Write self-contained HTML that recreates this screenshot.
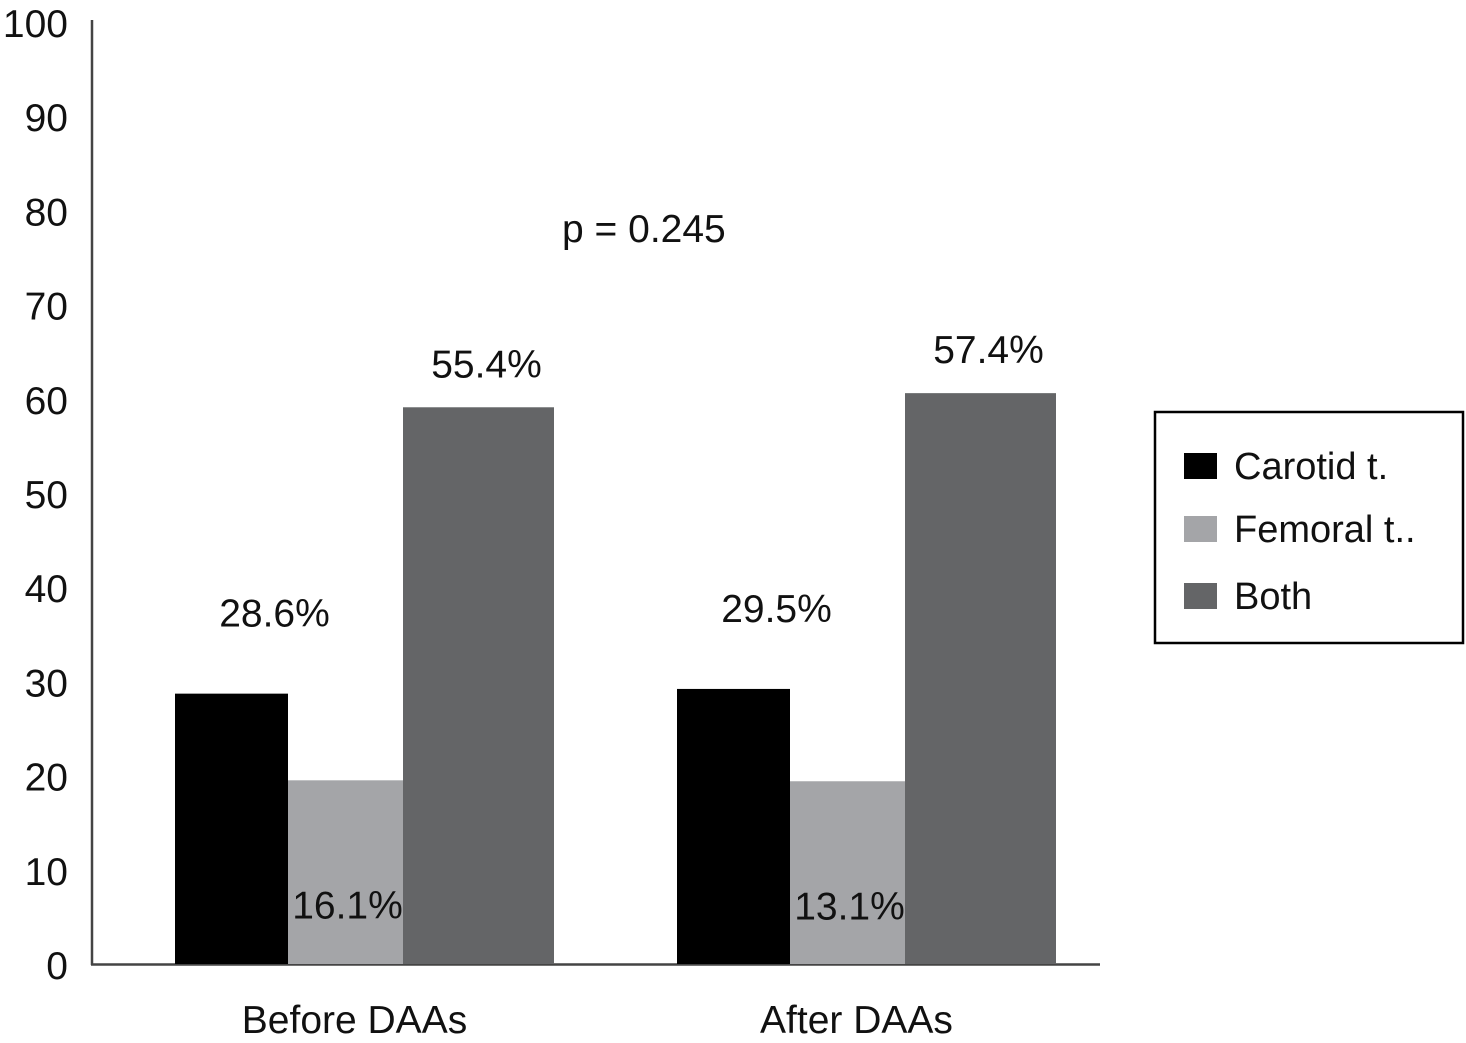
<!DOCTYPE html>
<html><head><meta charset="utf-8"><style>
html,body{margin:0;padding:0;background:#fff;}
svg{display:block;font-family:"Liberation Sans",Arial,sans-serif;}
</style></head><body>
<svg id="chart" width="1466" height="1043" viewBox="0 0 1466 1043"></svg>
<script>
const categories = ["Before DAAs","After DAAs"];
const seriesNames = ["Carotid t.","Femoral t..","Both"];
const carotidValues = [28.7, 29.2];
const femoralValues = [19.5, 19.4];
const bothValues = [59.1, 60.6];
const carotidLabels = ["28.6%","29.5%"];
const femoralLabels = ["16.1%","13.1%"];
const bothLabels = ["55.4%","57.4%"];
const yTicks = [0,10,20,30,40,50,60,70,80,90,100];

const NS="http://www.w3.org/2000/svg";
const svg=document.getElementById('chart');
function mk(tag,attrs,text){const e=document.createElementNS(NS,tag);for(const k in attrs)e.setAttribute(k,attrs[k]);if(text!==undefined)e.textContent=text;svg.appendChild(e);return e;}
const y0=964, yTop=22;
function yScale(v){return y0-(y0-yTop)*v/100;}
const groupStart=[175,677];
const widths=[113,115,151];
const colors=["#000000","#a4a5a8","#646567"];
const series=[carotidValues,femoralValues,bothValues];
const labels=[carotidLabels,femoralLabels,bothLabels];
const labelOffsets=[[43,-67],[2,138],[8,-30]];

let ax=mk('line',{x1:92,y1:20,x2:92,y2:965,stroke:'#444','stroke-width':2.5});


let xa=mk('line',{x1:91,y1:964.5,x2:1100,y2:964.5,stroke:'#444','stroke-width':2.5});



yTicks.forEach(t=>{
  const tx=mk('text',{x:68,y:yScale(t)+15,'text-anchor':'end','font-size':39,fill:'#111'},String(t));
  
  
});

categories.forEach((c,i)=>{
  let x=groupStart[i];
  series.forEach((s,j)=>{
    const y=yScale(s[i]);
    const r=mk('rect',{x:x,y:y,width:widths[j],height:y0-y,fill:colors[j]});
    
    
    const lbl=mk('text',{x:x+widths[j]/2+labelOffsets[j][0],y:y+labelOffsets[j][1],'text-anchor':'middle','font-size':39,fill:'#111'},labels[j][i]);
    
    
    x+=widths[j];
  });
  const total=widths.reduce((a,b)=>a+b,0);
  const cl=mk('text',{x:groupStart[i]+total/2-10,y:1033,'text-anchor':'middle','font-size':39,fill:'#111'},c);
  
  
});

const p=mk('text',{x:562,y:242,'font-size':39,fill:'#111'},'p = 0.245');



const lb=mk('rect',{x:1155,y:412,width:308,height:231,fill:'#fff',stroke:'#000','stroke-width':2.5});


const ly=[466,529,596];
seriesNames.forEach((n,j)=>{
  const s=mk('rect',{x:1184,y:ly[j]-13,width:33,height:26,fill:colors[j]});
  
  
  const t=mk('text',{x:1234,y:ly[j]+13,'font-size':38,fill:'#111'},n);
  
  
});
</script>
</body></html>
